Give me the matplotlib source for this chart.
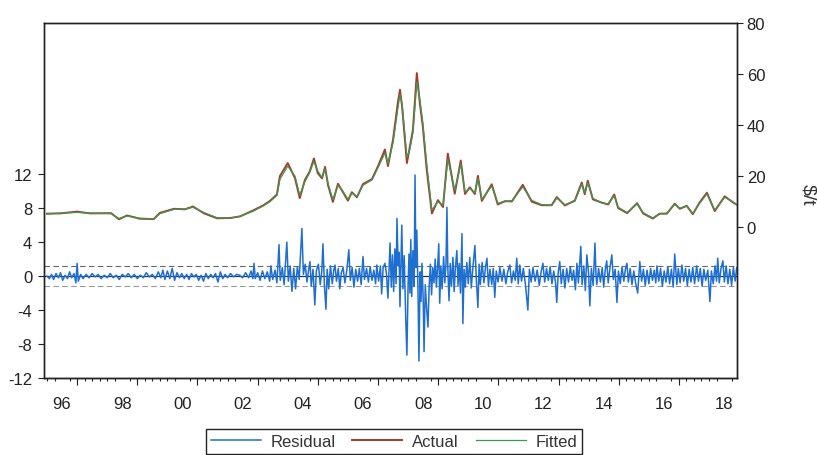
import matplotlib
matplotlib.use('Agg')
import matplotlib.pyplot as plt

plt.rcParams.update({
    'font.family': ['Liberation Sans', 'DejaVu Sans'],
    'font.size': 12,
    'text.color': '#333333',
    'xtick.color': '#222222',
    'ytick.color': '#222222',
    'axes.edgecolor': '#222222',
})

RES_COLOR = '#1f6fd1'
ACT_COLOR = '#a83a2c'
FIT_COLOR = '#3a9a55'

# Actual / fitted ($/t)
actual_year = [
    1996.00, 1996.43, 1997.00, 1997.43, 1998.13, 1998.39, 1998.66, 1999.09, 1999.55, 1999.75,
    2000.22, 2000.58, 2000.85, 2001.22, 2001.65, 2002.08, 2002.41, 2002.84, 2003.18, 2003.41,
    2003.64, 2003.74, 2004.00, 2004.24, 2004.40, 2004.57, 2004.73, 2004.87, 2005.00, 2005.14,
    2005.24, 2005.34, 2005.50, 2005.67, 2005.80, 2006.00, 2006.13, 2006.30, 2006.50, 2006.80,
    2007.00, 2007.23, 2007.33, 2007.50, 2007.66, 2007.73, 2007.80, 2007.96, 2008.06, 2008.16,
    2008.29, 2008.39, 2008.49, 2008.62, 2008.79, 2008.99, 2009.16, 2009.32, 2009.55, 2009.75,
    2009.89, 2010.05, 2010.22, 2010.32, 2010.45, 2010.78, 2010.98, 2011.22, 2011.45, 2011.81,
    2012.11, 2012.44, 2012.77, 2012.94, 2013.21, 2013.54, 2013.77, 2013.87, 2013.97, 2014.14,
    2014.44, 2014.65, 2014.85, 2014.98, 2015.28, 2015.61, 2015.81, 2016.13, 2016.36, 2016.60,
    2016.86, 2017.03, 2017.26, 2017.46, 2017.69, 2017.93, 2018.19, 2018.52, 2018.75, 2018.92,
]
actual = [
    5.4, 5.5, 6.2, 5.5, 5.6, 3.2, 4.7, 3.4, 3.3, 5.7,
    7.3, 7.1, 8.2, 5.5, 3.6, 3.7, 4.3, 6.6, 8.6, 10.4,
    12.9, 20.1, 25.2, 19.3, 11.5, 18.6, 21.9, 27.0, 21.2, 19.2,
    23.7, 16.5, 10.0, 17.1, 14.5, 10.5, 13.8, 11.8, 17.0, 18.9,
    24.0, 30.5, 24.0, 34.4, 48.9, 53.9, 47.4, 25.2, 31.7, 38.2,
    60.4, 48.6, 39.4, 22.5, 5.5, 10.7, 8.0, 28.9, 13.2, 26.2,
    13.1, 15.7, 13.1, 20.2, 10.4, 16.9, 9.0, 10.3, 10.2, 16.7,
    10.1, 8.7, 8.7, 11.9, 8.6, 10.5, 17.6, 13.0, 18.3, 11.0,
    9.7, 9.0, 12.9, 7.6, 5.6, 9.5, 5.5, 3.5, 5.4, 5.4,
    9.3, 7.3, 8.5, 5.2, 9.8, 13.6, 6.4, 12.2, 10.2, 8.9,
]
fitted = [
    5.3, 5.6, 5.9, 5.6, 5.4, 3.5, 4.5, 3.6, 3.4, 5.4,
    7.1, 7.2, 7.9, 5.8, 3.8, 3.6, 4.4, 6.3, 8.4, 10.1,
    12.5, 18.8, 24.0, 20.1, 12.6, 17.9, 21.5, 25.9, 22.0, 19.6,
    22.8, 17.2, 10.9, 16.4, 14.8, 11.0, 13.4, 12.1, 16.5, 18.6,
    23.4, 29.1, 25.0, 33.2, 46.5, 52.0, 48.3, 27.5, 30.6, 37.1,
    56.8, 50.1, 40.8, 24.6, 6.8, 10.1, 8.6, 26.8, 14.5, 24.9,
    13.9, 15.2, 13.6, 19.1, 11.0, 16.2, 9.5, 10.1, 10.4, 15.9,
    10.6, 8.9, 8.6, 11.5, 8.9, 10.3, 16.9, 13.6, 17.5, 11.4,
    9.6, 9.2, 12.4, 7.9, 5.8, 9.2, 5.8, 3.7, 5.3, 5.6,
    9.0, 7.5, 8.3, 5.5, 9.5, 13.1, 6.8, 11.8, 10.4, 8.8,
]

# Residuals (left axis), (year, value) by period
res_1996_2002 = [
    (1996.00, 0.0), (1996.08, -0.3), (1996.15, 0.2), (1996.22, -0.4), (1996.30, 0.3),
    (1996.38, -0.2), (1996.45, 0.4), (1996.52, -0.5), (1996.60, 0.1), (1996.68, -0.3),
    (1996.75, 0.5), (1996.82, -0.2), (1996.90, 0.3), (1996.96, -0.8), (1997.00, 1.5),
    (1997.04, -0.6), (1997.12, 0.2), (1997.20, -0.3), (1997.30, 0.2), (1997.40, -0.2),
    (1997.50, 0.3), (1997.60, -0.1), (1997.70, 0.2), (1997.80, -0.3), (1997.90, 0.1),
    (1998.00, -0.2), (1998.10, 0.3), (1998.20, -0.2), (1998.30, 0.1), (1998.40, -0.4),
    (1998.50, 0.2), (1998.60, -0.1), (1998.70, 0.3), (1998.80, -0.2), (1998.90, 0.2),
    (1999.00, -0.3), (1999.10, 0.1), (1999.20, -0.2), (1999.30, 0.4), (1999.40, -0.1),
    (1999.50, 0.2), (1999.60, -0.3), (1999.70, 0.5), (1999.78, -0.2), (1999.85, 0.7),
    (1999.92, -0.4), (2000.00, 0.6), (2000.08, -0.3), (2000.16, 0.9), (2000.24, -0.5),
    (2000.32, 0.4), (2000.40, -0.2), (2000.48, 0.3), (2000.56, -0.3), (2000.64, 0.2),
    (2000.72, -0.4), (2000.80, 0.3), (2000.88, -0.1), (2000.96, 0.2), (2001.04, -0.5),
    (2001.12, 0.1), (2001.20, -0.6), (2001.28, 0.3), (2001.36, -0.3), (2001.44, 0.2),
    (2001.52, -0.2), (2001.60, 0.3), (2001.68, -0.7), (2001.76, 0.5), (2001.84, -0.3),
    (2001.92, 0.2), (2002.00, -0.2), (2002.10, 0.3), (2002.20, -0.1), (2002.30, 0.2),
    (2002.40, 0.1), (2002.50, -0.2), (2002.60, 0.4), (2002.70, -0.2), (2002.78, 0.6),
    (2002.84, -0.3), (2002.88, 1.5), (2002.92, -0.3),
]
res_2003_2006 = [
    (2003.00, 0.4), (2003.08, -0.5), (2003.16, 0.6), (2003.24, -0.3), (2003.32, 0.5),
    (2003.40, -0.6), (2003.44, 1.2), (2003.50, -0.4), (2003.58, 0.7), (2003.64, -0.8),
    (2003.71, 3.7), (2003.75, -0.5), (2003.82, 1.0), (2003.88, -1.0), (2003.97, 4.0),
    (2004.02, -0.6), (2004.08, 1.2), (2004.14, -1.8), (2004.20, 0.9), (2004.26, -1.5),
    (2004.32, 1.1), (2004.38, -0.4), (2004.47, 5.6), (2004.52, 0.2), (2004.58, 1.4),
    (2004.64, -0.7), (2004.70, 0.9), (2004.74, 1.7), (2004.78, -1.2), (2004.84, 0.8),
    (2004.90, -3.4), (2004.95, 0.6), (2005.02, 1.4), (2005.08, -1.0), (2005.13, 0.5),
    (2005.17, 3.8), (2005.22, -1.2), (2005.27, -3.9), (2005.31, 0.8), (2005.36, -1.5),
    (2005.42, 1.2), (2005.48, -0.9), (2005.53, 0.7), (2005.57, 1.3), (2005.62, -0.6),
    (2005.68, 0.9), (2005.73, -1.5), (2005.78, 0.4), (2005.84, 1.0), (2005.90, -0.8),
    (2005.96, 0.6), (2006.03, 3.1), (2006.08, -0.5), (2006.14, 1.0), (2006.20, -1.3),
    (2006.26, 0.8), (2006.32, -0.6), (2006.38, 0.9), (2006.44, -1.0), (2006.50, 2.3),
    (2006.55, -0.4), (2006.62, 0.9), (2006.68, -0.7), (2006.74, 1.1), (2006.80, -0.5),
    (2006.86, 0.7), (2006.92, -0.9), (2006.96, 1.3),
]
res_2007_2009 = [
    (2007.02, -0.6), (2007.08, 1.2), (2007.12, -2.1), (2007.17, 1.0), (2007.23, 1.5),
    (2007.28, 0.3), (2007.33, -2.6), (2007.37, 1.2), (2007.40, 3.9), (2007.44, -1.3),
    (2007.48, 2.5), (2007.52, -1.8), (2007.56, 3.2), (2007.60, -0.9), (2007.63, 6.8),
    (2007.67, 1.2), (2007.70, 2.8), (2007.73, -3.6), (2007.76, 1.5), (2007.79, 6.0),
    (2007.83, -1.5), (2007.87, 2.4), (2007.92, -4.8), (2007.96, -9.3), (2008.00, -1.0),
    (2008.03, 2.6), (2008.06, -2.0), (2008.09, 4.3), (2008.12, -2.4), (2008.16, 3.0),
    (2008.20, -1.2), (2008.23, 11.9), (2008.26, 1.0), (2008.29, 5.4), (2008.33, -2.0),
    (2008.36, -10.0), (2008.40, 0.5), (2008.43, -3.0), (2008.46, 1.5), (2008.50, -2.5),
    (2008.53, -8.9), (2008.57, -1.0), (2008.61, -3.5), (2008.66, -6.0), (2008.70, -1.2),
    (2008.74, 1.4), (2008.78, -2.2), (2008.82, 1.0), (2008.86, -0.8), (2008.90, 2.0),
    (2008.94, -1.3), (2008.98, 1.1), (2009.02, 3.8), (2009.05, -3.2), (2009.09, 1.2),
    (2009.13, -1.5), (2009.18, 2.3), (2009.22, -0.8), (2009.26, 1.6), (2009.29, 8.1),
    (2009.32, 0.9), (2009.36, -2.9), (2009.40, 1.5), (2009.44, -1.2), (2009.49, 2.2),
    (2009.53, -1.8), (2009.57, 0.9), (2009.62, 3.0), (2009.66, -1.1), (2009.70, 1.5),
    (2009.74, -2.0), (2009.79, 5.0), (2009.82, -5.6), (2009.86, 0.8), (2009.90, -1.3),
    (2009.95, 1.6),
]
res_2010_2018 = [
    (2010.00, -0.9), (2010.05, 2.2), (2010.10, -1.4), (2010.15, 0.9), (2010.22, 3.6),
    (2010.27, -0.6), (2010.32, -3.7), (2010.36, 1.4), (2010.40, -1.0), (2010.46, 1.6),
    (2010.52, -0.8), (2010.57, 1.0), (2010.62, 2.1), (2010.67, -1.2), (2010.72, 0.8),
    (2010.78, -1.0), (2010.83, 0.9), (2010.88, -2.5), (2010.93, 0.6), (2010.99, -0.7),
    (2011.05, 1.0), (2011.12, -0.6), (2011.18, 0.8), (2011.25, -0.9), (2011.31, 0.5),
    (2011.38, 1.3), (2011.44, -0.8), (2011.50, 0.6), (2011.56, -0.5), (2011.61, 2.1),
    (2011.66, -0.9), (2011.71, 1.3), (2011.77, -0.6), (2011.83, 0.9), (2011.90, -1.0),
    (2011.98, -4.0), (2012.03, 0.8), (2012.09, -0.7), (2012.15, 1.0), (2012.22, -0.6),
    (2012.29, 0.7), (2012.36, -1.1), (2012.42, 0.5), (2012.48, 1.5), (2012.54, -0.7),
    (2012.60, 0.9), (2012.66, -0.5), (2012.72, 1.1), (2012.78, -0.9), (2012.84, 0.6),
    (2012.90, -0.8), (2012.94, -3.1), (2012.99, 0.5), (2013.04, 1.7), (2013.09, -0.9),
    (2013.15, 0.8), (2013.21, -1.4), (2013.27, 0.9), (2013.33, -0.7), (2013.39, 1.1),
    (2013.45, -0.5), (2013.50, 0.7), (2013.56, -1.6), (2013.61, 1.5), (2013.66, -0.8),
    (2013.74, 3.5), (2013.78, -1.0), (2013.84, 1.2), (2013.89, -1.7), (2013.94, 2.5),
    (2014.00, 0.2), (2014.04, -3.5), (2014.09, 0.9), (2014.15, -1.1), (2014.21, 3.9),
    (2014.24, 0.4), (2014.27, -1.0), (2014.33, 0.9), (2014.39, -0.7), (2014.45, 1.0),
    (2014.50, -1.3), (2014.55, 0.7), (2014.60, 1.8), (2014.65, -0.8), (2014.71, 1.0),
    (2014.77, 2.5), (2014.82, -0.4), (2014.88, 0.8), (2014.94, -3.1), (2014.99, 0.6),
    (2015.05, -0.9), (2015.11, 1.1), (2015.17, -0.6), (2015.22, 0.8), (2015.27, 1.5),
    (2015.32, -0.7), (2015.38, 0.9), (2015.44, -1.0), (2015.50, 0.6), (2015.56, -0.8),
    (2015.63, -2.0), (2015.70, 1.7), (2015.76, -0.6), (2015.82, 0.8), (2015.88, -1.1),
    (2015.94, 0.7), (2016.00, -0.9), (2016.06, 0.9), (2016.12, -0.5), (2016.18, 0.7),
    (2016.23, -0.8), (2016.27, 1.2), (2016.33, -0.6), (2016.39, 0.9), (2016.45, -1.2),
    (2016.51, 0.6), (2016.57, -0.7), (2016.63, 1.1), (2016.69, -0.9), (2016.75, 0.8),
    (2016.81, -1.3), (2016.86, 2.6), (2016.93, -1.0), (2016.98, 0.9), (2017.04, -0.8),
    (2017.10, 1.3), (2017.16, -0.6), (2017.22, 0.9), (2017.28, -1.1), (2017.34, 0.8),
    (2017.40, -0.7), (2017.46, 1.0), (2017.52, -0.9), (2017.59, 1.2), (2017.65, -0.6),
    (2017.71, 0.9), (2017.77, -1.2), (2017.83, 0.8), (2017.89, -0.5), (2017.96, 0.7),
    (2018.03, -3.0), (2018.08, 0.6), (2018.14, -0.9), (2018.20, 1.2), (2018.25, -0.6),
    (2018.29, 2.1), (2018.34, -0.8), (2018.40, 0.9), (2018.46, 1.8), (2018.51, -0.7),
    (2018.57, 1.2), (2018.63, -0.9), (2018.69, 0.8), (2018.75, -1.1), (2018.81, 1.0),
    (2018.87, -0.6), (2018.92, 1.0),
]

resid_se = 1.2
year_labels = ['96', '98', '00', '02', '04', '06', '08', '10', '12', '14', '16', '18']
label_years = [1996, 1998, 2000, 2002, 2004, 2006, 2008, 2010, 2012, 2014, 2016, 2018]
left_ticks = [-12, -8, -4, 0, 4, 8, 12]
right_ticks = [0, 20, 40, 60, 80]

residuals = res_1996_2002 + res_2003_2006 + res_2007_2009 + res_2010_2018
res_year = [p[0] for p in residuals]
res_value = [p[1] for p in residuals]

W, H = 817, 456
fig = plt.figure(figsize=(W / 100, H / 100), dpi=100)
ax = fig.add_axes([44 / W, 1 - 379 / H, (737 - 44) / W, 355 / H])
ax2 = ax.twinx()

# residual panel (left axis)
ax.axhline(0, color='#333333', lw=0.9, zorder=1)
ax.axhline(resid_se, color='#666666', lw=0.8, ls=(0, (5, 3)), zorder=1)
ax.axhline(-resid_se, color='#999999', lw=0.8, ls=(0, (5, 3)), zorder=1)
res_line, = ax.plot(res_year, res_value, color=RES_COLOR, lw=1.1, zorder=2,
                    label='Residual')

# actual / fitted (right axis)
act_line, = ax2.plot(actual_year, actual, color=ACT_COLOR, lw=1.4, label='Actual')
fit_line, = ax2.plot(actual_year, fitted, color=FIT_COLOR, lw=0.9, label='Fitted')

x0, x1 = 1995.9, 2018.93
ax.set_xlim(x0, x1)
ax.set_ylim(-12, 29.8)
ax2.set_ylim(-58.9, 80)
ax.set_yticks(left_ticks)
ax.set_yticklabels([str(t) for t in left_ticks])
ax2.set_yticks(right_ticks)
ax2.set_yticklabels([str(t) for t in right_ticks])

ax.tick_params(axis='y', direction='out', length=4.5, width=0.8, pad=4, labelsize=12)
ax2.tick_params(axis='y', direction='out', length=4, width=0.8, pad=3, labelsize=12)

# year labels centred on each year, quarterly minor ticks, long ticks every 2 years
ax.set_xticks([y + 0.5 for y in label_years])
ax.set_xticklabels(year_labels)
ax.set_xticks([1996 + q * 0.25 for q in range(92)], minor=True)
ax.tick_params(axis='x', which='major', length=0, pad=13, labelsize=12)
ax.tick_params(axis='x', which='minor', direction='out', length=2.5, width=0.8)
sec = ax.secondary_xaxis('bottom')
sec.set_xticks([y + 1 for y in label_years[:-1]])
sec.tick_params(axis='x', direction='out', length=5, width=0.8, labelbottom=False)

for a in (ax, ax2):
    for s in a.spines.values():
        s.set_linewidth(1.0)
        s.set_color('#222222')

fig.text(808 / W, 1 - 195 / H, r'\$/t', rotation=270, ha='center', va='center',
         fontsize=14)

fig.legend([res_line, act_line, fit_line], ['Residual', 'Actual', 'Fitted'],
           loc='upper center', bbox_to_anchor=(394 / W, 1 - 430 / H), ncol=3,
           frameon=True, fancybox=False, edgecolor='#222222', framealpha=1,
           fontsize=12, handlelength=3.0, handletextpad=0.6, columnspacing=1.0,
           borderaxespad=0, borderpad=0.3)

fig.savefig('out.png', dpi=100)
